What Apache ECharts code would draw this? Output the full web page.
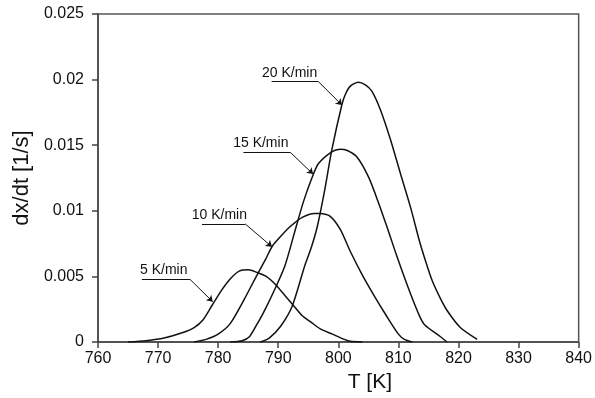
<!DOCTYPE html>
<html>
<head>
<meta charset="utf-8">
<script src="https://cdn.jsdelivr.net/npm/echarts@6/dist/echarts.min.js"></script>
<style>
html, body { margin: 0; padding: 0; background: #fff; }
#chart { width: 595px; height: 398px; }
</style>
</head>
<body>
<div id="chart"></div>
<script>
// [T in K, dx/dt in 1/s]
const rate5 = [[765,0],[768,0.0001],[771,0.0003],[774,0.0007],[776,0.0011],[777.5,0.0017],[779,0.0028],[780.5,0.0039],[782,0.0048],[783.5,0.0054],[785,0.0055],[786.5,0.0053],[788,0.005],[789.5,0.0044],[791,0.0036],[792.5,0.0028],[794,0.002],[795.5,0.0015],[797,0.001],[799,0.0006],[801,0.0002],[802,0.00005],[804,0]];
const rate10 = [[776,0],[778,0.0002],[780,0.0006],[782,0.0014],[784.4,0.0033],[786,0.0047],[788,0.0064],[789,0.0073],[790.5,0.0081],[792,0.0088],[794,0.0095],[796,0.0098],[797,0.0098],[798.6,0.0096],[800.3,0.0086],[802,0.0069],[804,0.0051],[806,0.0035],[808,0.002],[810,0.0006],[811,0.0002],[812.3,0]];
const rate15 = [[782,0],[784,0.0001],[785.2,0.0004],[786.4,0.0013],[787.5,0.0022],[789,0.0036],[791.1,0.0058],[792.8,0.0085],[794.2,0.0107],[795.6,0.0125],[796.7,0.0136],[798.9,0.0145],[800.3,0.0147],[801.5,0.0146],[803.1,0.0141],[805,0.0126],[806.7,0.0106],[808.3,0.0085],[809.7,0.0066],[812,0.0037],[813.6,0.0019],[814.4,0.0013],[817,0.0004],[818.1,0]];
const rate20 = [[787,0],[788.5,0.0003],[790.4,0.0012],[792.3,0.0027],[794.4,0.0058],[795.5,0.0072],[796.5,0.0088],[797.7,0.0115],[798.9,0.0146],[800.6,0.0181],[801.2,0.0189],[802,0.0195],[803.3,0.0198],[804.5,0.0196],[805.6,0.0191],[807,0.0177],[808.7,0.0154],[810.3,0.0129],[812,0.0103],[813.5,0.0077],[814.5,0.0062],[815.6,0.0047],[817,0.0033],[818.1,0.0024],[820.3,0.0011],[823.1,0.0002]];

const seriesNames = ['5 K/min', '10 K/min', '15 K/min', '20 K/min'];
const seriesData = [rate5, rate10, rate15, rate20];

// label annotation anchors, in data units
const textAt = [[767,0.00549],[775.6,0.00968],[782.5,0.01515],[787.3,0.0205]];
const underlineFrom = [[767.3,0.00478],[777.3,0.0090],[784.2,0.01446],[788.9,0.01984]];
const underlineTo = [[775.3,0.00478],[784.5,0.0090],[792,0.01446],[796.7,0.01984]];
const arrowTip = [[779.1,0.00307],[788.95,0.00726],[795.8,0.0128],[800.6,0.01806]];

const font = 'Liberation Sans, Arial, sans-serif';
const chart = echarts.init(document.getElementById('chart'), null, { renderer: 'canvas' });

const series = seriesData.map(function (d, i) {
  return {
    name: seriesNames[i],
    type: 'line',
    data: d,
    symbol: 'none',
    smooth: 0.25,
    lineStyle: { color: '#111', width: 1.5 },
    markLine: {
      silent: true,
      animation: false,
      label: { show: false },
      lineStyle: { color: '#111', width: 1, type: 'solid' },
      data: [
        [{ coord: underlineFrom[i], symbol: 'none' }, { coord: underlineTo[i], symbol: 'none' }],
        [{ coord: underlineTo[i], symbol: 'none' }, { coord: arrowTip[i], symbol: 'arrow', symbolSize: 6 }]
      ]
    },
    markPoint: {
      silent: true,
      animation: false,
      symbol: 'circle',
      symbolSize: 0,
      label: {
        show: true,
        position: 'right',
        distance: 0,
        color: '#111',
        fontSize: 14,
        fontFamily: font,
        formatter: seriesNames[i]
      },
      data: [{ coord: textAt[i] }]
    }
  };
});

chart.setOption({
  animation: false,
  grid: {
    left: 98, right: 16, top: 14, bottom: 56,
    show: true, borderColor: '#555', borderWidth: 1.5
  },
  xAxis: {
    type: 'value',
    min: 760, max: 840, interval: 10,
    name: 'T [K]',
    nameLocation: 'middle',
    nameGap: 30,
    nameTextStyle: { fontSize: 21, fontFamily: font, color: '#111', padding: [0, 0, 0, 63] },
    axisLine: { lineStyle: { color: '#444', width: 1.5 } },
    axisTick: { inside: false, length: 6, lineStyle: { color: '#444', width: 1.5 } },
    axisLabel: { fontSize: 16, fontFamily: font, color: '#111', margin: 9 },
    splitLine: { show: false }
  },
  yAxis: {
    type: 'value',
    min: 0, max: 0.025, interval: 0.005,
    name: 'dx/dt [1/s]',
    nameLocation: 'middle',
    nameGap: 65,
    nameTextStyle: { fontSize: 22, fontFamily: font, color: '#111' },
    axisLine: { show: true, lineStyle: { color: '#444', width: 1.5 } },
    axisTick: { show: true, inside: false, length: 6, lineStyle: { color: '#444', width: 1.5 } },
    axisLabel: { fontSize: 16, fontFamily: font, color: '#111', margin: 14 },
    splitLine: { show: false }
  },
  series: series
});
</script>
</body>
</html>
